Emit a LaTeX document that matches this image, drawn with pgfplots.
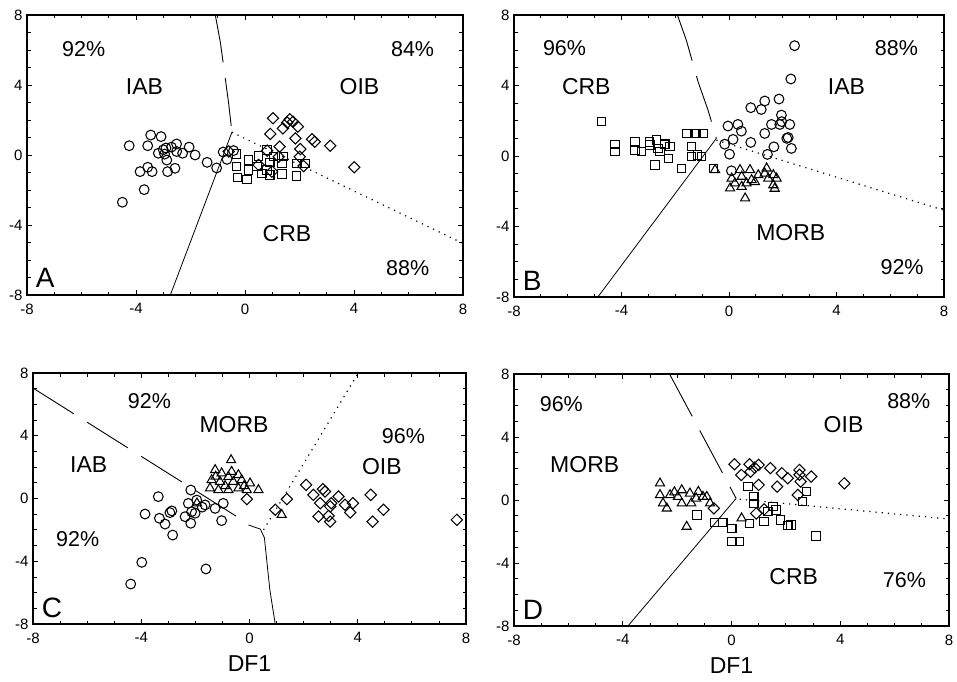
\documentclass[border=0pt]{standalone}
\usepackage{fontspec}
\setmainfont{Liberation Sans}
\usepackage{pgfplots}
\pgfplotsset{compat=1.18}

\pgfplotsset{
  panel/.style={
    scale only axis,
    xmin=-8, xmax=8, ymin=-8, ymax=8,
    xtick={-8,-4,0,4,8}, ytick={-8,-4,0,4,8},
    minor tick num=3,
    tick align=inside, tick pos=both,
    xticklabel pos=lower, yticklabel pos=left,
    axis line style={line width=1.6pt},
    major tick style={line width=0.8pt, black},
    minor tick style={line width=0.8pt, black},
    major tick length=5pt, minor tick length=3.5pt,
    tick label style={font=\fontsize{15}{17}\selectfont},
    xticklabel style={yshift=-5pt},
    yticklabel style={xshift=-1pt},
    /pgf/number format/assume math mode=true,
    label style={font=\fontsize{23}{27}\selectfont},
    xlabel style={yshift=-6pt},
  },
  circ/.style={only marks, mark=o, mark size=4.9pt, mark options={line width=1.05pt, black}},
  sq/.style={only marks, mark=square, mark size=4.2pt, mark options={line width=1.05pt, black}},
  dia/.style={only marks, mark=square, mark size=4.0pt, mark options={rotate=45, line width=1.05pt, black}},
  tri/.style={only marks, mark=triangle, mark size=5.3pt, mark options={line width=1.05pt, black}},
  dashb/.style={black, line width=0.9pt, dash pattern=on 48pt off 16pt},
  solidb/.style={black, line width=0.8pt},
  dotb/.style={black, line width=1.2pt, dash pattern=on 1.2pt off 5pt},
}
\tikzset{
  lab/.style={font=\fontsize{23}{27}\selectfont},
  pct/.style={font=\fontsize{21.5}{25}\selectfont},
  plet/.style={font=\fontsize{28}{32}\selectfont, anchor=west},
}

\begin{document}
\begin{tikzpicture}
\useasboundingbox (0pt,0pt) rectangle (957pt,681pt);

% ---------- A ----------
\begin{axis}[panel, at={(27pt,386pt)}, anchor=south west, width=436pt, height=280pt]
\addplot[dashb] coordinates {(-1.09,8) (-0.9,6.4) (-0.6,2.95) (-0.48,1.3)};
\addplot[solidb] coordinates {(-0.48,1.3) (-2.74,-8)};
\addplot[dotb] coordinates {(-0.48,1.3) (8,-5.05)};
\addplot[circ] coordinates {(-4.25,0.53) (-3.46,1.14) (-3.08,1.05) (-3.57,0.53) (-3.18,0.10) (-2.90,0.40)
 (-2.95,0.05) (-2.51,0.63) (-2.51,0.20) (-2.87,-0.29) (-2.57,-0.76) (-2.84,-0.95) (-2.29,0.10) (-2.05,0.45)
 (-1.83,0.0) (-3.85,-0.95) (-3.57,-0.70) (-3.41,-0.95) (-3.70,-1.98) (-4.50,-2.70) (-1.39,-0.42) (-1.04,-0.74)
 (-0.80,0.17) (-0.66,-0.25) (-0.42,0.25) (-3.0,0.3) (-2.7,0.45)};
\addplot[dia] coordinates {(1.03,2.10) (1.64,2.04) (1.76,1.90) (1.39,1.52) (1.94,1.62) (0.93,1.20) (1.85,0.95)
 (2.46,0.90) (2.56,0.76) (3.13,0.53) (1.27,0.48) (2.03,0.34) (2.01,-0.10) (4.01,-0.70) (2.15,-0.63) (0.50,-0.57)
 (0.99,-0.95) (0.81,0.25) (-0.60,0.20) (1.24,-0.10) (1.55,1.85)};
\addplot[sq] coordinates {(-0.32,0.06) (-0.32,-0.67) (-0.27,-1.30) (0.07,-1.39) (0.13,-0.29) (0.13,-0.86)
 (0.50,-0.06) (0.62,-1.05) (0.81,0.29) (0.91,-0.44) (0.91,-1.14) (1.36,-0.48) (1.36,-1.09) (1.42,-0.10)
 (1.88,-1.20) (1.88,-0.48) (2.21,-0.48) (0.81,-0.86) (0.44,-0.67) (1.05,-0.10)};
\node[pct] at (axis cs:-5.92,6.04) {92\%};
\node[lab] at (axis cs:-3.69,3.9) {IAB};
\node[pct] at (axis cs:6.15,6.04) {84\%};
\node[lab] at (axis cs:4.2,3.9) {OIB};
\node[lab] at (axis cs:1.54,-4.48) {CRB};
\node[pct] at (axis cs:5.97,-6.44) {88\%};
\node[plet] at (axis cs:-7.8,-7.0) {A};
\end{axis}

% ---------- B ----------
\begin{axis}[panel, at={(514pt,384pt)}, anchor=south west, width=430pt, height=282pt]
\addplot[dashb] coordinates {(-1.92,8) (-1.59,6.58) (-1.15,4.21) (-0.78,2.6) (-0.47,1.0)};
\addplot[solidb] coordinates {(-0.47,1.0) (-4.88,-8)};
\addplot[dotb] coordinates {(-0.47,0.9) (8,-3.08)};
\addplot[sq] coordinates {(-4.74,1.95) (-4.24,0.66) (-4.24,0.24) (-3.50,0.81) (-3.50,0.30) (-3.25,0.24)
 (-2.94,0.62) (-2.69,0.91) (-2.64,0.43) (-2.39,0.67) (-2.20,0.53) (-2.57,0.24) (-2.26,-0.13) (-2.75,-0.51)
 (-1.76,-0.70) (-1.57,1.29) (-1.20,1.29) (-0.96,1.29) (-1.39,0.53) (-1.39,-0.04) (-1.02,-0.04) (-0.58,-0.70)
 (-2.95,0.80) (-1.18,0.05)};
\addplot[circ] coordinates {(2.44,6.26) (2.30,4.37) (1.86,3.23) (1.33,3.12) (1.20,2.64) (0.81,2.74) (1.95,2.32)
 (1.58,1.79) (1.89,1.79) (2.26,1.79) (2.20,1.05) (2.32,0.43) (1.67,0.52) (1.33,1.28) (1.43,0.09) (-0.04,1.70)
 (0.33,1.79) (0.46,1.41) (0.81,0.77) (-0.16,0.67) (0.02,0.10) (0.15,0.94) (0.09,-0.84) (1.96,1.95) (2.15,1.00)};
\addplot[tri] coordinates {(-0.52,-0.79) (0.10,-1.27) (0.22,-1.55) (0.47,-1.17) (0.47,-1.74) (0.60,-2.40)
 (0.78,-0.79) (0.84,-1.36) (0.65,-1.55) (1.09,-1.08) (1.40,-0.70) (1.46,-1.27) (1.65,-1.65) (1.77,-1.27)
 (1.65,-1.08) (0.41,-0.79) (0.04,-1.83) (0.96,-1.47) (1.33,-0.99) (1.70,-1.85)};
\node[pct] at (axis cs:-6.12,6.11) {96\%};
\node[lab] at (axis cs:-5.31,3.93) {CRB};
\node[pct] at (axis cs:6.23,6.11) {88\%};
\node[lab] at (axis cs:4.37,3.93) {IAB};
\node[lab] at (axis cs:2.30,-4.37) {MORB};
\node[pct] at (axis cs:6.44,-6.30) {92\%};
\node[plet] at (axis cs:-7.8,-7.09) {B};
\end{axis}

% ---------- C ----------
\begin{axis}[panel, at={(33pt,57pt)}, anchor=south west, width=433pt, height=251pt, xlabel={DF1}]
\addplot[dashb] coordinates {(-8,7.04) (-0.04,-1.62)};
\addplot[solidb] coordinates {(-0.04,-1.69) (0.4,-1.95) (0.55,-2.5) (0.75,-5.8) (0.95,-8)};
\addplot[dotb] coordinates {(0.52,-2.0) (4.02,8)};
\addplot[circ] coordinates {(-3.37,0.12) (-3.86,-0.99) (-3.33,-1.26) (-3.12,-1.63) (-2.94,-0.90) (-2.87,-0.79)
 (-2.84,-2.33) (-3.98,-4.07) (-4.39,-5.45) (-1.61,-4.49) (-2.17,0.54) (-2.26,-0.31) (-2.14,-0.84) (-2.17,-1.58)
 (-1.95,-0.10) (-2.01,-0.94) (-1.64,-0.41) (-1.27,-0.63) (-0.97,-0.31) (-1.03,-1.41) (-2.38,-1.16) (-1.75,-0.55)};
\addplot[tri] coordinates {(-0.68,2.45) (-1.27,1.82) (-1.03,1.61) (-0.66,1.71) (-0.78,1.39) (-0.41,1.50)
 (-1.40,1.18) (-1.09,1.07) (-0.60,1.07) (-0.29,1.18) (0.02,0.97) (-1.46,0.65) (-1.15,0.54) (-0.78,0.54)
 (-0.41,0.65) (-0.10,0.54) (0.33,0.54) (-0.9,0.8) (-0.2,0.8) (-1.94,-0.30) (1.19,-1.04) (-1.25,1.4)};
\addplot[dia] coordinates {(0.95,-0.72) (1.38,-0.04) (2.09,0.87) (2.36,0.23) (2.71,0.60) (2.79,0.45) (2.61,-0.30)
 (2.55,-1.15) (2.92,-1.11) (2.98,-1.47) (3.02,-0.30) (3.29,0.13) (3.53,-0.40) (3.72,-0.89) (3.82,-0.30)
 (4.48,0.23) (4.55,-1.47) (4.95,-0.72) (7.66,-1.36) (-0.10,-0.04) (2.98,-0.51)};
\node[pct] at (axis cs:-3.70,6.19) {92\%};
\node[lab] at (axis cs:-0.57,4.70) {MORB};
\node[pct] at (axis cs:5.69,3.96) {96\%};
\node[lab] at (axis cs:4.89,2.04) {OIB};
\node[lab] at (axis cs:-5.94,2.19) {IAB};
\node[pct] at (axis cs:-6.35,-2.57) {92\%};
\node[plet] at (axis cs:-7.8,-7.0) {C};
\end{axis}

% ---------- D ----------
\begin{axis}[panel, at={(514pt,55pt)}, anchor=south west, width=435pt, height=252pt, xlabel={DF1}]
\addplot[dashb] coordinates {(-2.28,8) (0.17,0.1)};
\addplot[solidb] coordinates {(0.17,0.1) (-3.81,-8)};
\addplot[dotb] coordinates {(0.3,0.05) (8,-1.21)};
\addplot[tri] coordinates {(-2.63,1.06) (-2.63,0.32) (-2.38,-0.53) (-2.26,0.32) (-1.83,0.63) (-1.83,-0.21)
 (-1.53,0.42) (-1.22,0.53) (-0.91,0.21) (-1.65,-1.69) (0.37,-1.16) (-0.79,-0.21) (-2.52,-0.21) (-1.97,0.21)
 (-1.05,0.21) (-1.48,-0.21) (-2.10,0.50) (-1.30,0.10)};
\addplot[sq] coordinates {(0.60,0.85) (0.82,0.21) (0.82,-0.21) (-1.27,-0.96) (-0.63,-1.44) (-0.32,-1.44)
 (0.01,-1.80) (0.01,-2.65) (0.29,-2.65) (0.66,-1.49) (1.19,-1.38) (1.34,-0.74) (1.52,-0.42) (1.64,-0.64)
 (1.80,-1.27) (2.07,-1.63) (2.19,-1.59) (2.75,0.53) (2.62,-0.11) (3.11,-2.29)};
\addplot[dia] coordinates {(0.11,2.27) (0.36,1.59) (0.66,2.27) (0.70,1.80) (1.00,2.23) (1.43,2.02) (1.85,1.70)
 (2.07,1.38) (2.50,1.91) (2.54,1.17) (2.93,1.49) (4.15,1.06) (1.00,0.96) (1.68,0.85) (2.44,0.32) (0.91,-0.85)
 (-0.65,-0.53) (0.85,2.05) (2.5,1.6) (1.2,-0.6)};
\node[pct] at (axis cs:-6.26,6.09) {96\%};
\node[lab] at (axis cs:-5.40,2.23) {MORB};
\node[pct] at (axis cs:6.52,6.26) {88\%};
\node[lab] at (axis cs:4.12,4.78) {OIB};
\node[lab] at (axis cs:2.29,-4.88) {CRB};
\node[pct] at (axis cs:6.36,-5.10) {76\%};
\node[plet] at (axis cs:-7.8,-6.96) {D};
\end{axis}
\end{tikzpicture}
\end{document}
